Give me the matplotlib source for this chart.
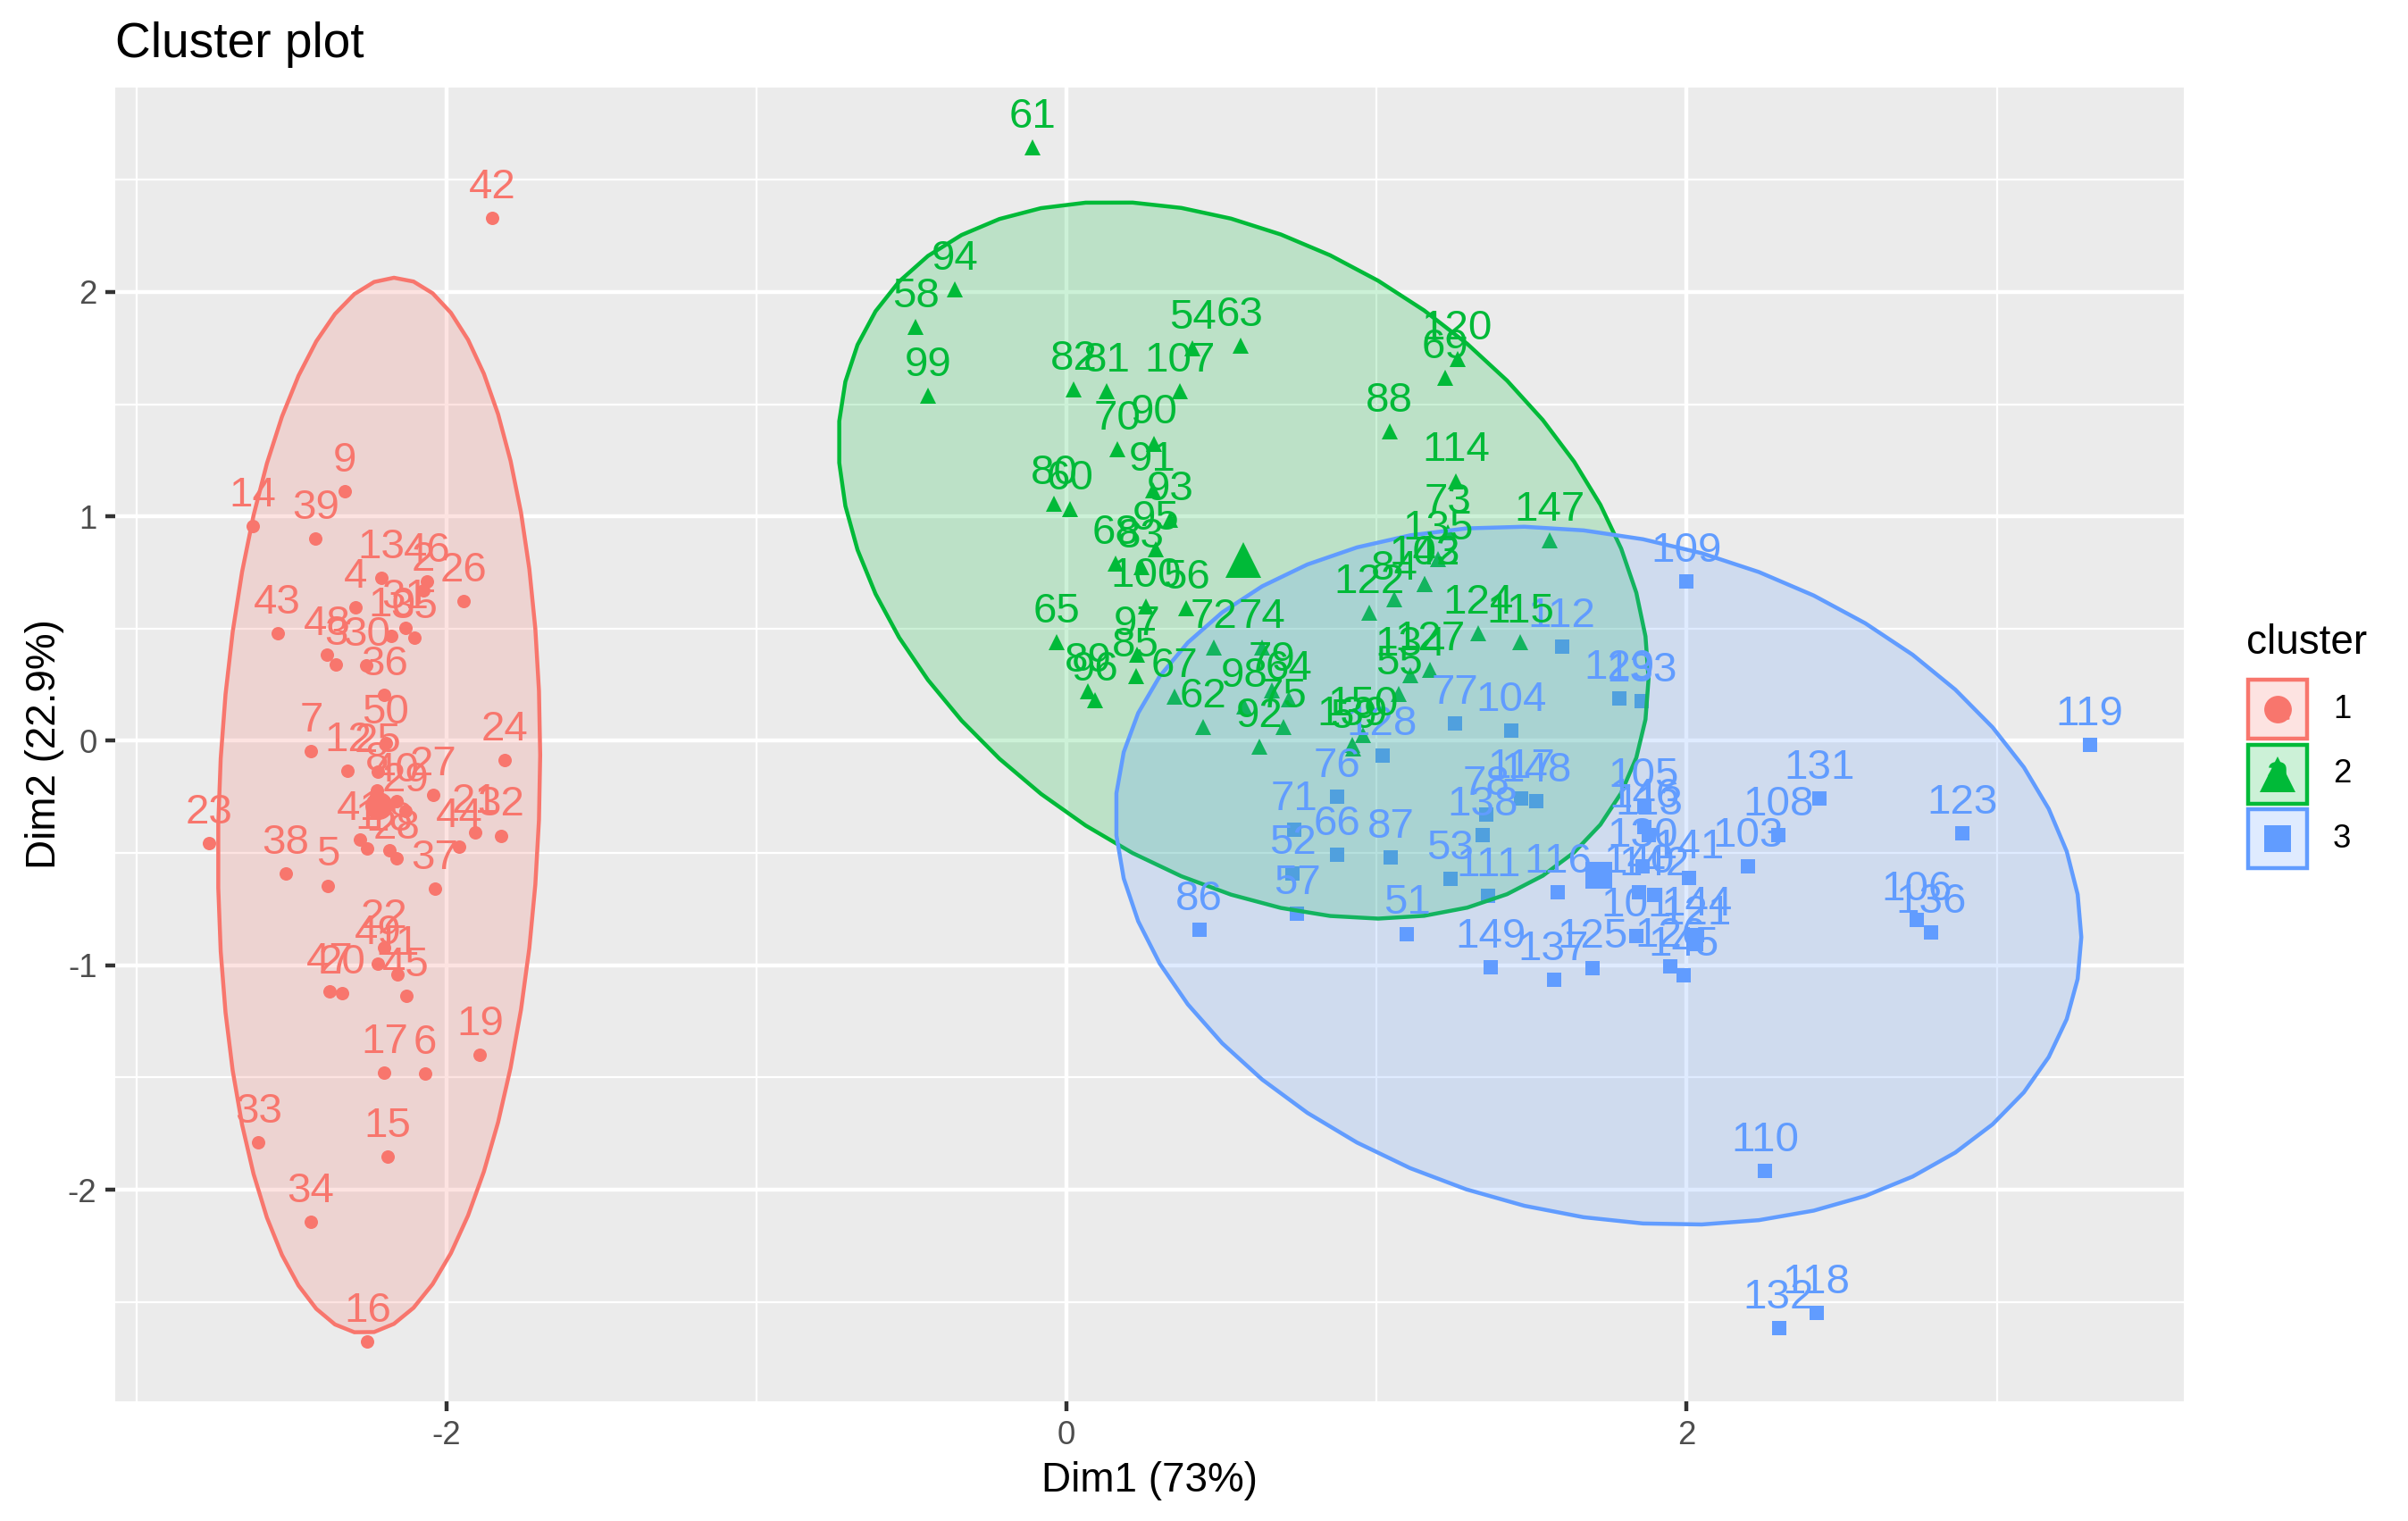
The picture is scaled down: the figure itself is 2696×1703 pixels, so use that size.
import numpy as np
import matplotlib
matplotlib.use("Agg")
import matplotlib.pyplot as plt
from matplotlib.patches import Polygon, Rectangle
from matplotlib.lines import Line2D

plt.rcParams['font.family'] = ['Liberation Sans', 'DejaVu Sans']
plt.rcParams['axes.unicode_minus'] = False

# Coordinates of the 150 observations on the first two dimensions
dim1 = [
    -2.257, -2.074, -2.356, -2.292, -2.382, -2.069, -2.436, -2.225, -2.327, -2.177,
    -2.159, -2.318, -2.211, -2.624, -2.191, -2.255, -2.200, -2.183, -1.892, -2.336,
    -1.908, -2.200, -2.765, -1.813, -2.220, -1.945, -2.044, -2.161, -2.132, -2.258,
    -2.133, -1.825, -2.606, -2.438, -2.103, -2.200, -2.038, -2.519, -2.422, -2.162,
    -2.279, -1.852, -2.545, -1.958, -2.130, -2.063, -2.377, -2.386, -2.222, -2.196,
    1.098, 0.729, 1.237, 0.406, 1.072, 0.387, 0.744, -0.486, 0.925, 0.011,
    -0.110, 0.439, 0.560, 0.717, -0.033, 0.872, 0.349, 0.158, 1.221, 0.164,
    0.735, 0.475, 1.230, 0.631, 0.700, 0.871, 1.252, 1.354, 0.663, -0.040,
    0.130, 0.023, 0.241, 1.058, 0.223, 0.428, 1.045, 1.041, 0.069, 0.283,
    0.278, 0.622, 0.335, -0.361, 0.288, 0.091, 0.227, 0.574, -0.446, 0.256,
    1.838, 1.154, 2.198, 1.435, 1.862, 2.743, 0.366, 2.295, 2.000, 2.252,
    1.360, 1.597, 1.878, 1.256, 1.463, 1.585, 1.467, 2.418, 3.300, 1.260,
    2.031, 0.975, 2.888, 1.329, 1.695, 1.948, 1.171, 1.018, 1.782, 1.857,
    2.428, 2.297, 1.856, 1.110, 1.198, 2.789, 1.571, 1.342, 0.922, 1.846,
    2.008, 1.895, 1.154, 2.034, 1.991, 1.864, 1.559, 1.516, 1.368, 0.957,
]
dim2 = [
    -0.478, 0.672, 0.341, 0.595, -0.645, -1.484, -0.047, -0.222, 1.112, 0.467,
    -1.040, -0.133, 0.726, 0.958, -1.854, -2.677, -1.479, -0.487, -1.400, -1.124,
    -0.407, -0.921, -0.457, -0.085, -0.137, 0.624, -0.241, -0.525, -0.312, 0.337,
    0.503, -0.422, -1.788, -2.144, 0.459, 0.205, -0.659, -0.590, 0.901, -0.268,
    -0.440, 2.330, 0.478, -0.471, -1.138, 0.709, -1.117, 0.385, -0.995, -0.009,
    -0.860, -0.593, -0.614, 1.749, 0.208, 0.591, -0.770, 1.846, -0.032, 1.031,
    2.645, 0.063, 1.759, 0.186, 0.438, -0.507, 0.196, 0.789, 1.617, 1.298,
    -0.395, 0.416, 0.930, 0.415, 0.063, -0.250, 0.077, -0.330, 0.225, 1.055,
    1.557, 1.567, 0.775, 0.632, 0.287, -0.843, -0.520, 1.378, 0.219, 1.325,
    1.116, -0.025, 0.985, 2.012, 0.853, 0.181, 0.384, 0.154, 1.539, 0.597,
    -0.868, 0.697, -0.560, 0.047, -0.294, -0.798, 1.556, -0.419, 0.709, -1.915,
    -0.690, 0.420, -0.418, 1.158, 0.441, -0.674, -0.255, -2.548, -0.018, 1.701,
    -0.907, 0.570, -0.412, 0.480, -1.011, -1.004, 0.315, -0.064, 0.187, -0.560,
    -0.258, -2.618, 0.178, 0.292, 0.809, -0.854, -1.065, -0.421, -0.017, -0.674,
    -0.612, -0.687, 0.697, -0.865, -1.046, -0.386, 0.894, -0.268, -1.008, 0.024,
]
cluster = [
    1, 1, 1, 1, 1, 1, 1, 1, 1, 1, 1, 1, 1, 1, 1, 1, 1, 1, 1, 1, 1, 1, 1, 1, 1,
    1, 1, 1, 1, 1, 1, 1, 1, 1, 1, 1, 1, 1, 1, 1, 1, 1, 1, 1, 1, 1, 1, 1, 1, 1,
    3, 3, 3, 2, 2, 2, 3, 2, 2, 2, 2, 2, 2, 2, 2, 3, 2, 2, 2, 2,
    3, 2, 2, 2, 2, 3, 3, 3, 2, 2, 2, 2, 2, 2, 2, 3, 3, 2, 2, 2,
    2, 2, 2, 2, 2, 2, 2, 2, 2, 2,
    3, 2, 3, 3, 3, 3, 2, 3, 3, 3, 3, 3, 3, 2, 2, 3, 3, 3, 3, 2,
    3, 2, 3, 2, 3, 3, 2, 3, 3, 3, 3, 3, 3, 2, 2, 3, 3, 3, 2, 3,
    3, 3, 2, 3, 3, 3, 2, 3, 3, 2,
]
labels = [str(i) for i in range(1, 151)]
cluster_names = [1, 2, 3]

dim1 = np.array(dim1)
dim2 = np.array(dim2)
cluster = np.array(cluster)

colors = {1: '#F8766D', 2: '#00BA38', 3: '#619CFF'}
markers = {1: 'o', 2: '^', 3: 's'}
small_ms = {1: 3.6, 2: 4.3, 3: 3.8}
big_ms = {1: 7.4, 2: 9.4, 3: 7.2}

W, H = 2696, 1703
fig = plt.figure(figsize=(W / 300, H / 300), dpi=300)
ax = fig.add_axes([129 / W, 1 - 1569 / H, (2445 - 129) / W, (1569 - 98) / H])
ax.set_facecolor('#EBEBEB')
for s in ax.spines.values():
    s.set_visible(False)

for k in cluster_names:
    m = cluster == k
    ax.plot(dim1[m], dim2[m], linestyle='none', marker=markers[k], ms=small_ms[k],
            color=colors[k], mec='none', zorder=2)

# 95% normal ellipses around each cluster (like stat_ellipse type = "norm")
t = np.linspace(0, 2 * np.pi, 52)
circle = np.column_stack([np.cos(t), np.sin(t)])
for k in cluster_names:
    m = cluster == k
    pts = np.column_stack([dim1[m], dim2[m]])
    d2 = len(pts) - 1
    qf = d2 / 2 * (0.05 ** (-2 / d2) - 1)
    r = np.sqrt(2 * qf)
    ch = np.linalg.cholesky(np.cov(pts.T)).T
    ell = pts.mean(0) + r * circle @ ch
    ax.add_patch(Polygon(ell, closed=True, facecolor=colors[k], alpha=0.2,
                         edgecolor='none', zorder=3))
    ax.add_patch(Polygon(ell, closed=True, facecolor='none', edgecolor=colors[k],
                         lw=1.07, zorder=3))
    c = pts.mean(0)
    ax.plot(c[0], c[1], marker=markers[k], ms=big_ms[k], color=colors[k],
            mec='none', zorder=3.5)

for i in range(len(labels)):
    ax.annotate(labels[i], (dim1[i], dim2[i]), xytext=(0, 5.3), textcoords='offset points',
                ha='center', va='baseline', fontsize=11.4, color=colors[cluster[i]], zorder=4)

ax.set_xticks([-2, 0, 2])
ax.set_yticks([-2, -1, 0, 1, 2])
ax.set_xticks([-3, -1, 1, 3], minor=True)
ax.set_yticks([-2.5, -1.5, -0.5, 0.5, 1.5, 2.5], minor=True)
ax.grid(which='major', color='white', lw=1.07)
ax.grid(which='minor', color='white', lw=0.53)
ax.set_axisbelow(True)
ax.tick_params(which='major', length=2.75, width=1.07, color='#333333', labelcolor='#4D4D4D',
               labelsize=8.8, pad=2.2)
ax.tick_params(which='minor', length=0)
ax.set_xlabel('Dim1 (73%)', fontsize=11, labelpad=2.75)
ax.set_ylabel('Dim2 (22.9%)', fontsize=11, labelpad=0.8)
fig.text(129 / W, 1 - 64 / H, 'Cluster plot', fontsize=13.2, ha='left', va='baseline')

# legend
fig.text(2515 / W, 1 - 732 / H, 'cluster', fontsize=11, ha='left', va='baseline')
for j, k in enumerate(cluster_names):
    top = 759 + j * 72.5
    fig.add_artist(Rectangle((2517 / W, 1 - (top + 68) / H), 66 / W, 66 / H,
                             transform=fig.transFigure, facecolor=colors[k], alpha=0.2,
                             edgecolor='none'))
    fig.add_artist(Rectangle((2517 / W, 1 - (top + 68) / H), 66 / W, 66 / H,
                             transform=fig.transFigure, facecolor='none',
                             edgecolor=colors[k], lw=1.07))
    cy = 1 - (top + 35) / H
    fig.add_artist(Line2D([2550 / W], [cy], transform=fig.transFigure, marker=markers[k],
                          ms=big_ms[k], color=colors[k], mec='none'))
    fig.text(2550 / W, cy, 'a', fontsize=11.4, color=colors[k], ha='center', va='center')
    fig.text(2612 / W, cy, str(k), fontsize=8.8, ha='left', va='center')

fig.savefig('out.png', dpi=300)
